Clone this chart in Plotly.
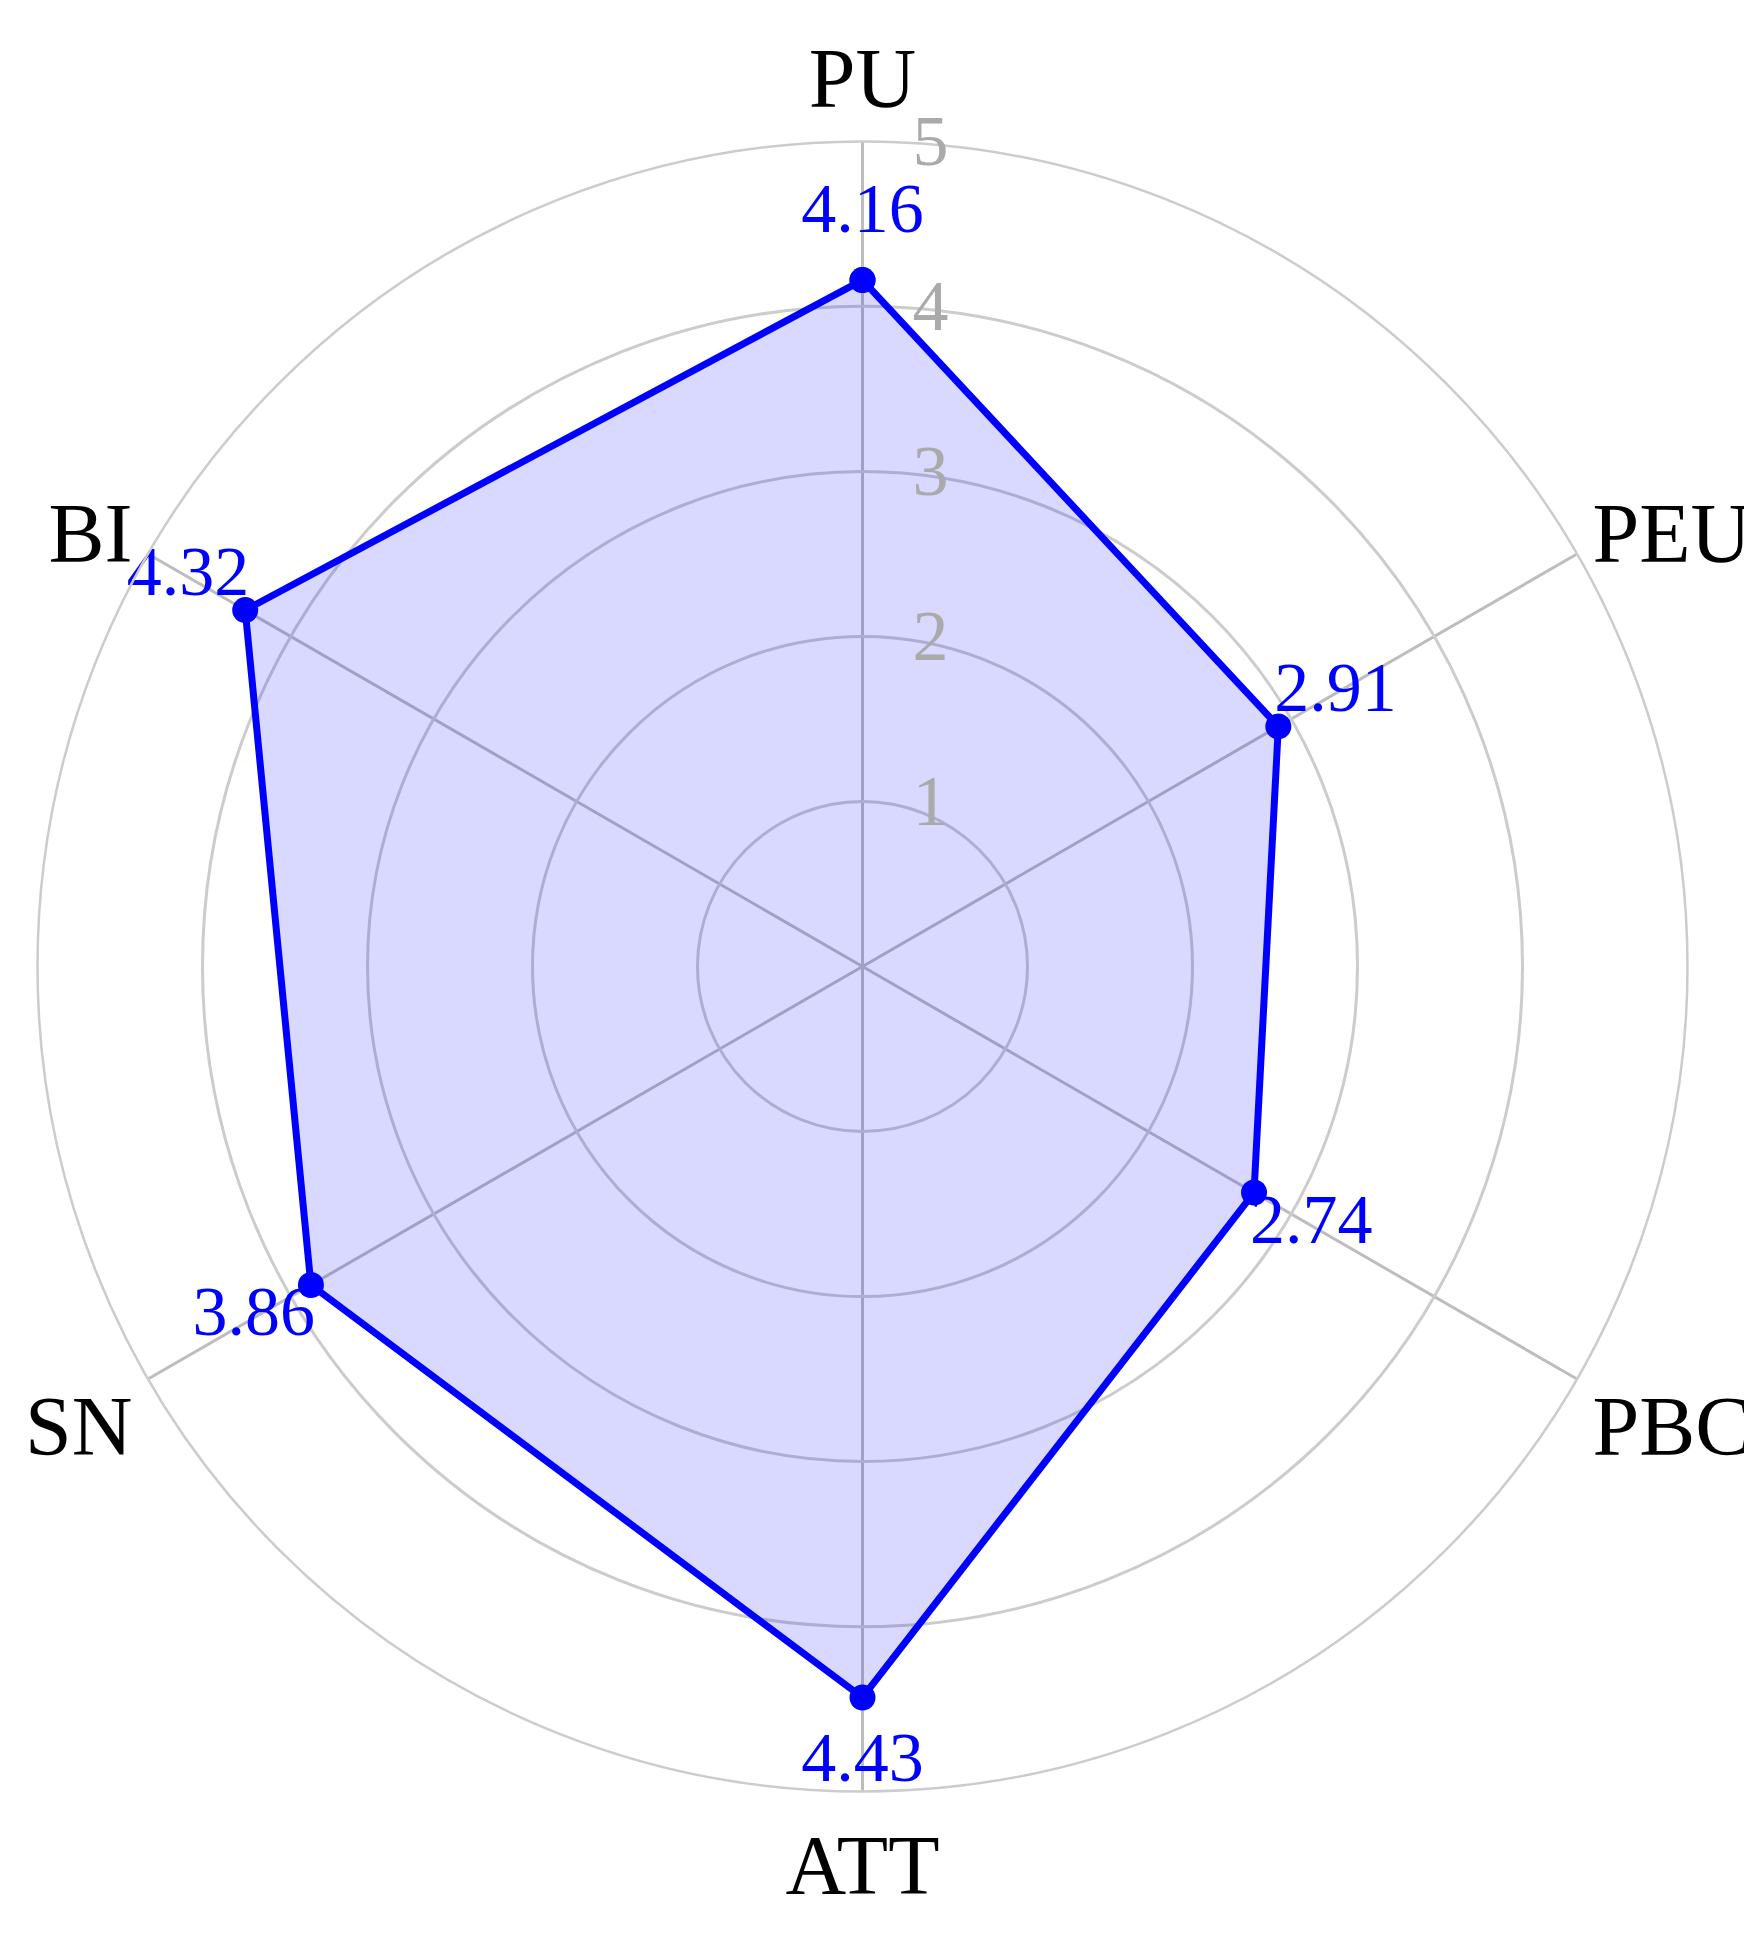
import plotly.graph_objects as go

categories = ["PU", "PEU", "PBC", "ATT", "SN", "BI"]
values = [4.16, 2.91, 2.74, 4.43, 3.86, 4.32]
radial_ticks = [1, 2, 3, 4, 5]

LABEL_OFFSET = 0.4  # value labels sit a bit outside each point
FONT = "Liberation Serif"
W, H = 1752, 1940

fig = go.Figure()
fig.add_trace(
    go.Scatterpolar(
        r=values + values[:1],
        theta=categories + categories[:1],
        mode="lines+markers",
        fill="toself",
        fillcolor="rgba(0,0,255,0.15)",
        line=dict(color="#0000ff", width=7),
        marker=dict(color="#0000ff", size=26),
        showlegend=False,
        hoverinfo="skip",
    )
)
fig.add_trace(
    go.Scatterpolar(
        r=[v + LABEL_OFFSET for v in values],
        theta=categories,
        mode="text",
        text=[f"{v:.2f}" for v in values],
        textposition="middle center",
        textfont=dict(family=FONT, size=70, color="#0000ff"),
        showlegend=False,
        hoverinfo="skip",
    )
)

fig.update_layout(
    width=W,
    height=H,
    paper_bgcolor="white",
    margin=dict(l=0, r=0, t=0, b=0),
    font=dict(family=FONT),
    polar=dict(
        domain=dict(x=[29.5 / W, 1679.5 / W], y=[1 - 1783.5 / H, 1 - 133.5 / H]),
        bgcolor="rgba(0,0,0,0)",
        radialaxis=dict(
            range=[0, 5],
            tickvals=radial_ticks,
            angle=90,
            tickangle=90,
            showline=False,
            gridcolor="#cccccc",
            gridwidth=2.5,
            tickfont=dict(family=FONT, size=72, color="#aaaaaa"),
            ticks="outside",
            ticklen=35,
            tickcolor="rgba(0,0,0,0)",
        ),
        angularaxis=dict(
            rotation=90,
            direction="clockwise",
            gridcolor="#bdbdbd",
            gridwidth=2.5,
            linecolor="#cccccc",
            linewidth=2.5,
            ticks="",
            tickfont=dict(family=FONT, size=84, color="black"),
        ),
    ),
)

fig.write_html("out.html")
